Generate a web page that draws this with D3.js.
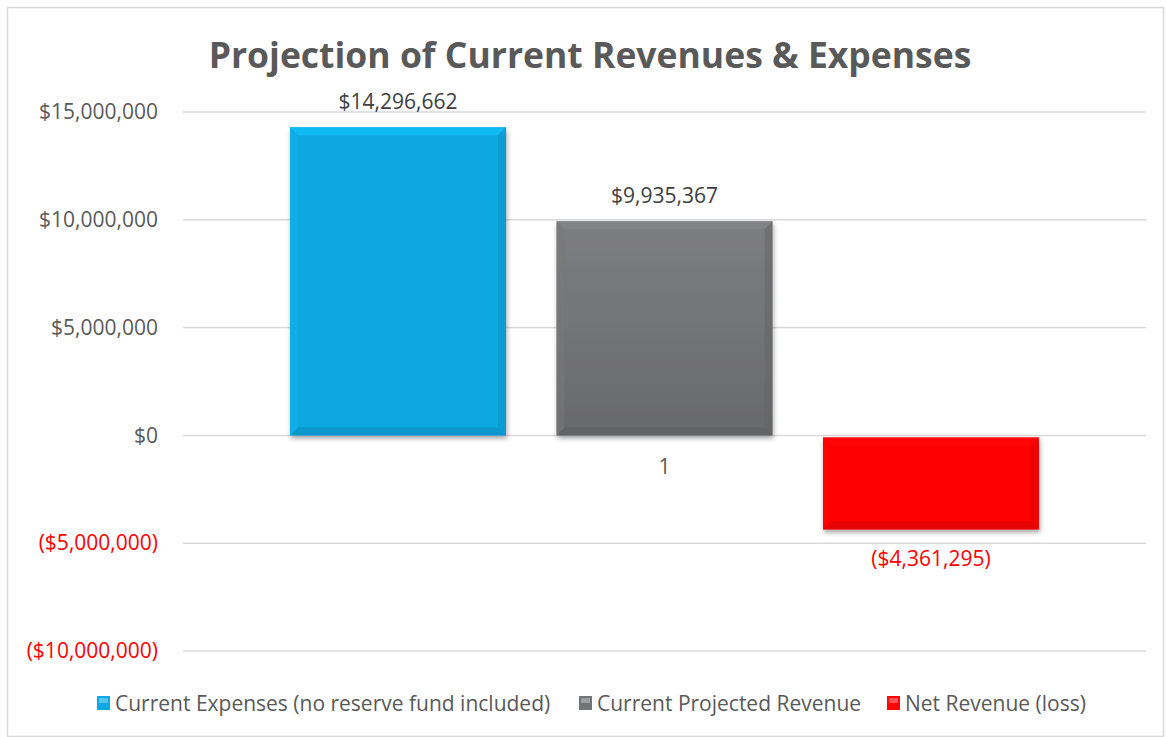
<!DOCTYPE html>
<html>
<head>
<meta charset="utf-8">
<script src="https://cdn.jsdelivr.net/npm/d3@7"></script>
<style>
  body { margin: 0; background: #fff; }
  text { font-family: "Open Sans", "Liberation Sans", sans-serif; }
</style>
</head>
<body>
<div id="chart-area"></div>
<script>
var categories = ["1"];
var seriesNames = ["Current Expenses (no reserve fund included)", "Current Projected Revenue", "Net Revenue (loss)"];
var seriesValues = [14296662, 9935367, -4361295];
var yTicks = [15000000, 10000000, 5000000, 0, -5000000, -10000000];
var seriesColors = ["#0FA8E2", "#727376", "#FF0606"];

var W = 1166, H = 737;
var margin = {top: 112, right: 20, bottom: 86, left: 183};
var width = 1146 - margin.left;
var height = 651 - margin.top;

var svg = d3.select("#chart-area").append("svg")
    .attr("width", W)
    .attr("height", H);

var defs = svg.append("defs");
var shadow = defs.append("filter").attr("id", "shadow")
    .attr("x", "-10%").attr("y", "-10%").attr("width", "130%").attr("height", "130%");
shadow.append("feDropShadow").attr("dx", 1).attr("dy", 3).attr("stdDeviation", 2.5)
    .attr("flood-color", "#000").attr("flood-opacity", 0.35);

// soft vertical shading per series
seriesColors.forEach((col, i) => {
    var c = d3.color(col);
    var grad = defs.append("linearGradient").attr("id", "grad" + i)
        .attr("x1", 0).attr("y1", 0).attr("x2", 0).attr("y2", 1);
    grad.append("stop").attr("offset", "0%").attr("stop-color", (i == 1 ? c.brighter(0.25) : c).formatHex());
    grad.append("stop").attr("offset", "100%").attr("stop-color", (i == 1 ? c.darker(0.25) : c).formatHex());
});

// chart border
svg.append("rect")
    .attr("x", 7.5).attr("y", 7.5)
    .attr("width", W - 10).attr("height", H - 8)
    .attr("fill", "none").attr("stroke", "#d9d9d9").attr("stroke-width", 1.5);

svg.append("text")
    .attr("x", 590).attr("y", 68)
    .attr("text-anchor", "middle")
    .attr("font-size", "35.5px")
    .attr("font-weight", "bold")
    .attr("fill", "#595959")
    .text("Projection of Current Revenues & Expenses");

var g = svg.append("g")
    .attr("transform", "translate(" + margin.left + ", " + margin.top + ")");

var y = d3.scaleLinear().domain([-10000000, 15000000]).range([height, 0]);
var x0 = d3.scaleBand().domain(categories).range([0, width]).paddingInner(0).paddingOuter(0.1429);
var x1 = d3.scaleBand().domain(seriesNames).range([0, x0.bandwidth()]).paddingInner(0.1895).paddingOuter(0);

var fmt = d3.format("$,.0f");
function money(v) { return v < 0 ? "(" + fmt(-v) + ")" : fmt(v); }

// gridlines
g.selectAll(".grid").data(yTicks).enter().append("line")
    .attr("x1", 0).attr("x2", width)
    .attr("y1", (d) => y(d)).attr("y2", (d) => y(d))
    .attr("stroke", "#d9d9d9").attr("stroke-width", 1.5);

var yAxisGroup = g.append("g").attr("class", "left axis")
    .call(d3.axisLeft(y).tickValues(yTicks).tickSize(0).tickPadding(25).tickFormat(money));
yAxisGroup.select(".domain").remove();
yAxisGroup.selectAll("text")
    .attr("font-size", "21px")
    .attr("font-family", "'Open Sans', sans-serif")
    .attr("fill", (d) => d < 0 ? "#FF0000" : "#595959");

// category label
g.append("text")
    .attr("x", x0("1") + x0.bandwidth() / 2)
    .attr("y", y(0) + 39)
    .attr("text-anchor", "middle")
    .attr("font-size", "21px")
    .attr("fill", "#595959")
    .text(categories[0]);

var data = seriesNames.map((n, i) => ({name: n, value: seriesValues[i], color: seriesColors[i], idx: i}));

var bars = g.selectAll(".bar").data(data).enter().append("g").attr("class", "bar")
    .attr("transform", "translate(" + x0("1") + ",0)");

bars.append("rect")
    .attr("x", (d) => x1(d.name))
    .attr("y", (d) => d.value >= 0 ? y(d.value) : y(0) + 2)
    .attr("width", x1.bandwidth())
    .attr("height", (d) => Math.abs(y(d.value) - y(0)) - (d.value < 0 ? 2 : 0))
    .attr("fill", (d) => "url(#grad" + d.idx + ")")
    .attr("filter", "url(#shadow)");

// bevel edges
var bev = 8;
bars.each(function(d) {
    var bx = x1(d.name), bw = x1.bandwidth();
    var top = d.value >= 0 ? y(d.value) : y(0) + 2;
    var bot = d.value >= 0 ? y(0) : y(d.value);
    var sel = d3.select(this);
    var c = d3.color(d.color);
    var sides = [
        {pts: [[bx, top], [bx + bw, top], [bx + bw - bev, top + bev], [bx + bev, top + bev]], col: c.brighter(0.5)},
        {pts: [[bx, top], [bx + bev, top + bev], [bx + bev, bot - bev], [bx, bot]], col: c.brighter(0.15)},
        {pts: [[bx + bw, top], [bx + bw, bot], [bx + bw - bev, bot - bev], [bx + bw - bev, top + bev]], col: c.darker(0.4)},
        {pts: [[bx, bot], [bx + bev, bot - bev], [bx + bw - bev, bot - bev], [bx + bw, bot]], col: c.darker(0.6)}
    ];
    sides.forEach((s) => {
        sel.append("polygon")
            .attr("points", s.pts.map((p) => p.join(",")).join(" "))
            .attr("fill", s.col.formatHex())
            .attr("opacity", 0.5);
    });
});

bars.append("text")
    .attr("x", (d) => x1(d.name) + x1.bandwidth() / 2)
    .attr("y", (d) => d.value >= 0 ? y(d.value) - 18 : y(d.value) + 37)
    .attr("text-anchor", "middle")
    .attr("font-size", "21px")
    .attr("fill", (d) => d.value < 0 ? "#FF0000" : "#404040")
    .text((d) => money(d.value));

// legend
var legendX = [97, 579, 887];
var legend = svg.selectAll(".legend").data(data).enter().append("g").attr("class", "legend")
    .attr("transform", (d, i) => "translate(" + legendX[i] + ",703)");
legend.append("rect")
    .attr("x", 0).attr("y", -7)
    .attr("width", 13).attr("height", 14)
    .attr("fill", (d) => d.color);
legend.append("rect")
    .attr("x", 2).attr("y", -5)
    .attr("width", 9).attr("height", 5)
    .attr("fill", "#fff").attr("opacity", 0.3);
legend.append("text")
    .attr("x", 18).attr("y", 7.5)
    .attr("font-size", "21px")
    .attr("fill", "#595959")
    .text((d) => d.name);
</script>
</body>
</html>
